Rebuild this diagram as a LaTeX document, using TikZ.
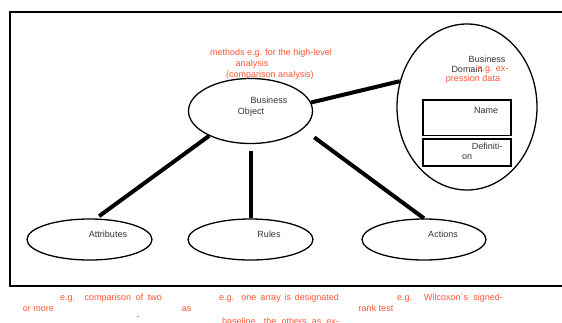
\documentclass[tikz,border=0pt]{standalone}
\usepackage{fontspec}
\setmainfont{Liberation Sans}
\usetikzlibrary{shapes.geometric}
\definecolor{notered}{HTML}{FF5533}
\definecolor{labelgray}{HTML}{333333}
\begin{document}
\begin{tikzpicture}[x=1pt,y=-1pt]
        \tikzstyle{blob}=[ellipse,draw,line width=1.3pt,inner sep=0pt]
        \tikzstyle{slot}=[rectangle,draw,line width=1.3pt,inner sep=0pt,minimum width=88pt]
        \tikzstyle{edge}=[draw,line width=4pt]
        \tikzstyle{txt}=[inner sep=0pt,anchor=base,text=labelgray,font=\fontsize{9}{10.5}\selectfont]
        \tikzstyle{note}=[txt,text=notered]
        \useasboundingbox (0,0) rectangle (562,322);
        \draw[line width=1.6pt] (10,12) rectangle (600,286);
    	\begin{scope}
         \node [blob,minimum width=124pt,minimum height=65pt] (obj) at (250.5,111) {};
         \node [blob,minimum width=140pt,minimum height=166pt] (dom) at (467,107) {};
         \node [blob,minimum width=125pt,minimum height=41pt] (attr) at (89.5,239.5) {};
         \node [blob,minimum width=125pt,minimum height=41pt] (rules) at (250.5,239.5) {};
         \node [blob,minimum width=124pt,minimum height=41pt] (act) at (424,239.5) {};
         \node [slot,minimum height=35.5pt] (name) at (467,117.75) {};
         \node [slot,minimum height=27pt] (defn) at (467,152.5) {};

         \path[edge,shorten >=4pt] (obj.211) to (attr.73);
         \path[edge,shorten <=7pt] (obj.south) to (rules.north);
         \path[edge,shorten <=14pt] (obj.341) to (act.north);
         \path[edge] (obj.8) to (dom.159);

         % labels inside the shapes
         \node [txt] (objA) at (269,103.3) {Business};
         \node [txt] (objB) at (251,114.3) {Object};
         \node [txt] (domA) at (487,62.3) {Business};
         \node [txt] (domB) at (467,72.3) {Domain};
         \node [txt] (nameT) at (486,113.3) {Name};
         \node [txt] (defnA) at (487,149.3) {Definiti-};
         \node [txt] (defnB) at (467,159.3) {on};
         \node [txt] (attrT) at (108,237.3) {Attributes};
         \node [txt] (rulesT) at (269,237.3) {Rules};
         \node [txt] (actT) at (443,237.3) {Actions};

         % red notes
         \node [note] (methA) at (271,55.3) {methods e.g. for the high-level};
         \node [note] (methB) at (252,66.3) {analysis};
         \node [note] (methC) at (270,77) {(comparison analysis)};
         \node [note] (domC) at (493,71.3) {e.g. ex-};
         \node [note] (domD) at (473,81.3) {pression data};

         \node [note] (attrA) at (111,300.3) {\makebox[102pt][s]{e.g. comparison of two}};
         \node [note] (attrB) at (38.5,311.3) {or more};
         \node [note] (attrC) at (138,319.3) {-};
         \node [note] (rulesA) at (186.5,311.3) {as};
         \node [note] (rulesB) at (279,300.3) {\makebox[120pt][s]{e.g. one array is designated}};
         \node [note] (rulesC) at (280.5,324.3) {\makebox[117pt][s]{baseline, the others as ex-}};
         \node [note] (actA) at (450,300.3) {\makebox[106pt][s]{e.g. Wilcoxon´s signed-}};
         \node [note] (actB) at (376,311.3) {rank test};
         \end{scope}
\end{tikzpicture}
\end{document}
